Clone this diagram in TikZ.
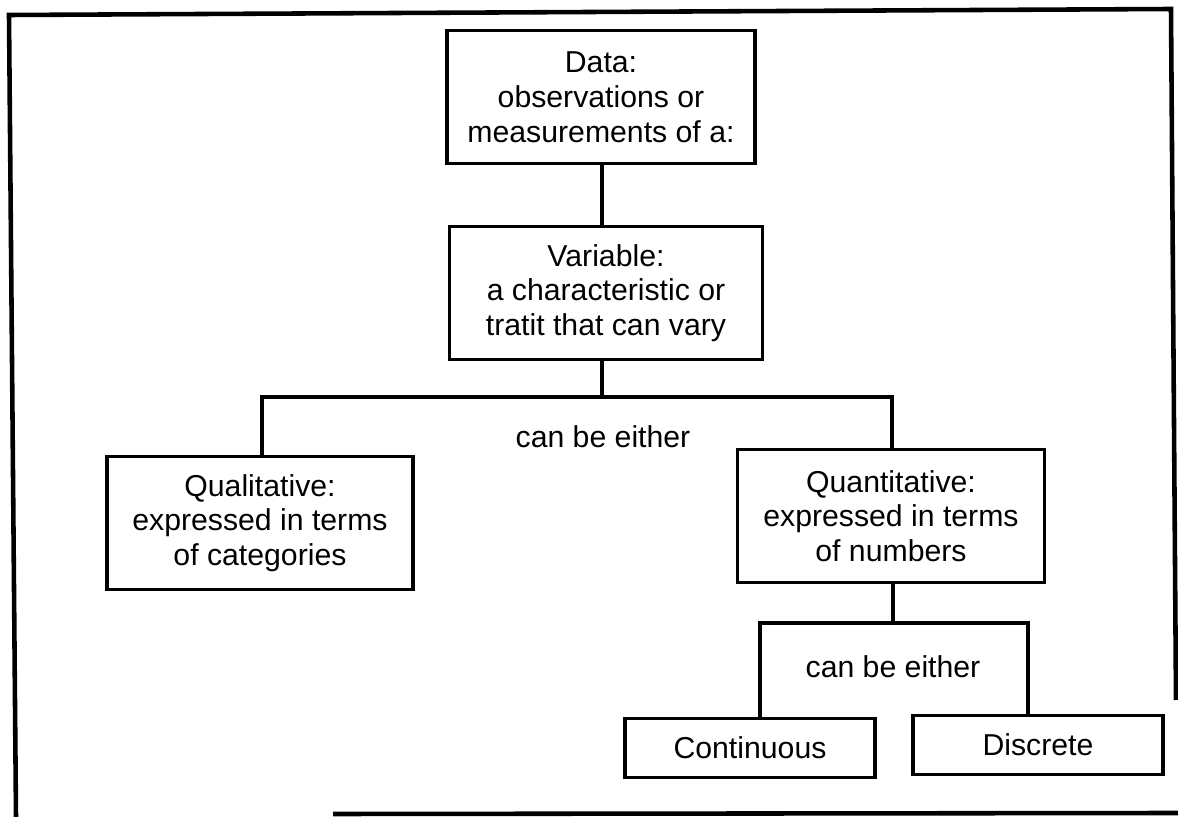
\documentclass[tikz,border=0pt]{standalone}
\usepackage{fontspec}
\setmainfont{Liberation Sans}
\begin{document}
\begin{tikzpicture}[x=0.02cm,y=-0.02cm,
  box/.style={draw, line width=2pt, inner sep=0pt, align=center,
    font=\fontsize{17.2}{19.8}\selectfont},
  lbl/.style={inner sep=0pt, font=\fontsize{17.2}{19.8}\selectfont},
  conn/.style={line width=2pt},
  frame/.style={line width=2.6pt}]
\useasboundingbox (0,0) rectangle (1178,817);
% frame
\draw[frame] (16,817) -- (9,15) -- (1171,9) -- (1176,700);
\draw[frame] (333,814) -- (1178,813);
% nodes
\node[box, minimum width=6.16cm, minimum height=2.66cm] (data) at (601,97)
  {Data:\\observations or\\measurements of a:};
\node[box, minimum width=6.26cm, minimum height=2.66cm] (var) at (606,293)
  {Variable:\\a characteristic or\\tratit that can vary};
\node[box, minimum width=6.12cm, minimum height=2.66cm] (qual) at (260,523)
  {Qualitative:\\expressed in terms\\of categories};
\node[box, minimum width=6.14cm, minimum height=2.66cm] (quant) at (891,516)
  {Quantitative:\\expressed in terms\\of numbers};
\node[lbl] (either1) at (603,437) {can be either};
\node[lbl] (either2) at (893,667) {can be either};
\node[box, minimum width=5.0cm, minimum height=1.18cm] (cont) at (750,748) {Continuous};
\node[box, minimum width=5.0cm, minimum height=1.18cm] (disc) at (1038,745) {Discrete};
% connectors
\coordinate (j1) at (602,397);
\coordinate (jl) at (262,397);
\coordinate (jr) at (892,397);
\coordinate (j2) at (893,623);
\coordinate (jcl) at (760,623);
\coordinate (jcr) at (1028,623);
\draw[conn] (data.south -| 602,0) -- (var.north -| 602,0);
\draw[conn] (var.south -| 602,0) -- (j1);
\draw[conn] (qual.north -| jl) -- (jl) -- (jr) -- (quant.north -| jr);
\draw[conn] (quant.south -| j2) -- (j2);
\draw[conn] (cont.north -| jcl) -- (jcl) -- (jcr) -- (disc.north -| jcr);
\end{tikzpicture}
\end{document}
